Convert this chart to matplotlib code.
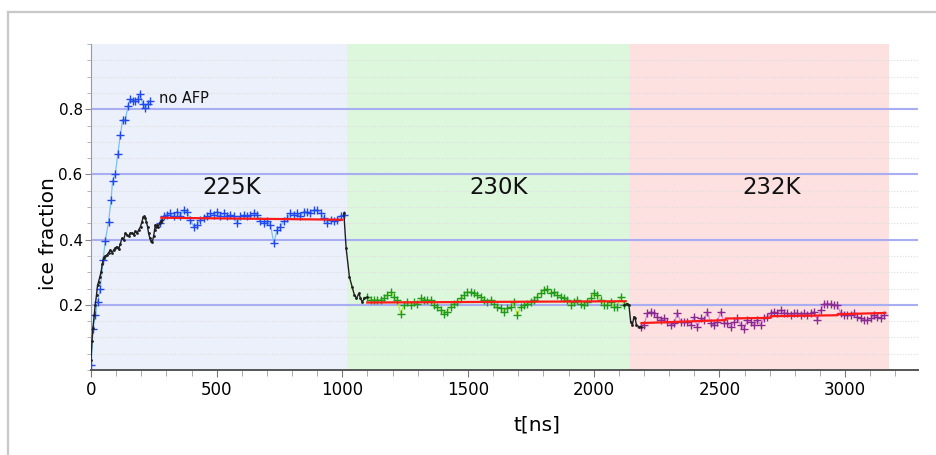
import numpy as np
import matplotlib.pyplot as plt
from matplotlib.ticker import MultipleLocator, FixedLocator

# temperature windows (ns)
win_225 = (0, 1017)
win_230 = (1017, 2140)
win_232 = (2140, 3175)

# reference run without AFP
noafp_t = [1, 8, 17, 26, 37, 48, 57, 70, 80, 86, 97, 107, 117, 126, 137, 147,
           156, 167, 176, 186, 196, 205, 216, 225, 236]
noafp_v = [0.015, 0.127, 0.168, 0.209, 0.25, 0.337, 0.397, 0.455, 0.522, 0.581,
           0.602, 0.664, 0.722, 0.768, 0.768, 0.811, 0.832, 0.825, 0.825, 0.832,
           0.848, 0.817, 0.804, 0.817, 0.825]

# transient segments (black)
ramp_t = [0, 4, 8, 13, 17, 22, 26, 30, 35, 40, 45, 50, 57, 64, 70, 77, 84, 90,
          97, 103, 110, 116, 123, 130, 137, 143, 150, 157, 164, 170, 177, 183,
          190, 197, 203, 208, 212, 216, 220, 225, 229, 234, 239, 244, 249, 253,
          256, 260, 263, 268, 273, 277, 282]
ramp_v = [0.03, 0.09, 0.13, 0.17, 0.20, 0.23, 0.26, 0.27, 0.285, 0.30, 0.325,
          0.343, 0.35, 0.353, 0.36, 0.368, 0.36, 0.368, 0.375, 0.378, 0.37,
          0.385, 0.404, 0.40, 0.42, 0.415, 0.41, 0.42, 0.42, 0.415, 0.425, 0.42,
          0.43, 0.44, 0.455, 0.47, 0.471, 0.466, 0.455, 0.44, 0.42, 0.405,
          0.397, 0.394, 0.41, 0.43, 0.445, 0.44, 0.445, 0.44, 0.45, 0.455, 0.46]
drop1_t = [1006, 1015, 1028, 1039, 1048, 1056, 1066, 1072, 1079, 1088, 1098]
drop1_v = [0.481, 0.374, 0.286, 0.255, 0.23, 0.22, 0.235, 0.22, 0.209, 0.22, 0.223]
drop2_t = [2120, 2134, 2140, 2147, 2154, 2160, 2165, 2170, 2180, 2187]
drop2_v = [0.199, 0.204, 0.200, 0.148, 0.138, 0.163, 0.158, 0.138, 0.133, 0.133]

# equilibrated runs
t225 = np.linspace(276, 1006, 56)
v225 = [0.450, 0.471, 0.476, 0.481, 0.471, 0.486, 0.471, 0.491, 0.486, 0.461,
        0.440, 0.445, 0.461, 0.466, 0.471, 0.481, 0.476, 0.486, 0.471, 0.481,
        0.471, 0.476, 0.471, 0.450, 0.471, 0.476, 0.471, 0.476, 0.481, 0.476,
        0.456, 0.450, 0.456, 0.445, 0.389, 0.430, 0.440, 0.456, 0.466, 0.481,
        0.476, 0.481, 0.471, 0.486, 0.486, 0.481, 0.491, 0.491, 0.481, 0.466,
        0.450, 0.461, 0.456, 0.461, 0.471, 0.476]

t230 = np.linspace(1099, 2120, 78)
v230 = [0.225, 0.215, 0.215, 0.215, 0.215, 0.220, 0.230, 0.240, 0.225, 0.215,
        0.173, 0.199, 0.209, 0.199, 0.209, 0.204, 0.220, 0.215, 0.215, 0.215,
        0.199, 0.194, 0.184, 0.173, 0.179, 0.194, 0.204, 0.209, 0.220, 0.230,
        0.240, 0.240, 0.235, 0.230, 0.225, 0.215, 0.209, 0.215, 0.204, 0.194,
        0.189, 0.179, 0.189, 0.194, 0.209, 0.168, 0.194, 0.199, 0.204, 0.209,
        0.215, 0.225, 0.235, 0.245, 0.250, 0.235, 0.240, 0.230, 0.225, 0.220,
        0.215, 0.199, 0.209, 0.215, 0.204, 0.199, 0.209, 0.220, 0.235, 0.230,
        0.215, 0.199, 0.199, 0.209, 0.194, 0.194, 0.225, 0.199]

t232 = np.linspace(2187, 3155, 74)
v232 = [0.133, 0.138, 0.174, 0.179, 0.174, 0.163, 0.153, 0.158, 0.148, 0.138,
        0.143, 0.174, 0.148, 0.148, 0.148, 0.138, 0.163, 0.133, 0.158, 0.153,
        0.179, 0.143, 0.138, 0.148, 0.179, 0.143, 0.143, 0.133, 0.148, 0.158,
        0.138, 0.127, 0.153, 0.148, 0.138, 0.153, 0.138, 0.158, 0.163, 0.174,
        0.179, 0.174, 0.184, 0.174, 0.174, 0.168, 0.174, 0.174, 0.168, 0.174,
        0.168, 0.174, 0.179, 0.153, 0.184, 0.204, 0.204, 0.204, 0.199, 0.199,
        0.174, 0.168, 0.168, 0.168, 0.174, 0.163, 0.158, 0.153, 0.153, 0.158,
        0.168, 0.163, 0.158, 0.168]

# running fits (red)
fit225_t = [280, 1000]
fit225_v = [0.467, 0.461]
fit230_t = [1099, 2127]
fit230_v = [0.207, 0.211]
fit232_t = [2190, 2525, 2525, 2704, 2704, 2970, 2970, 3160]
fit232_v = [0.144, 0.153, 0.158, 0.160, 0.165, 0.168, 0.171, 0.175]

labels = ["225K", "230K", "232K"]
label_t = [558, 1622, 2708]

fig = plt.figure(figsize=(9.37, 4.55), dpi=100)
ax = fig.add_axes([0.0971, 0.1868, 0.8826, 0.7165])

# outer frame lines
fig.add_artist(plt.Line2D([0.009, 1.0], [0.974, 0.974], color="#c8c8c8", lw=1.6))
fig.add_artist(plt.Line2D([0.009, 0.009], [0.0, 0.974], color="#c8c8c8", lw=1.6))

ax.axvspan(*win_225, color="#ebf0fa", zorder=0, lw=0)
ax.axvspan(*win_230, color="#dcf7dc", zorder=0, lw=0)
ax.axvspan(*win_232, color="#fde1e1", zorder=0, lw=0)

ax.set_xlim(0, 3290)
ax.set_ylim(0, 1.0)

# grid
for y in np.arange(0.05, 1.0, 0.05):
    ax.axhline(y, color="#dedede", lw=0.8, ls=(0, (1, 1.5)), zorder=1)
for y in [0.2, 0.4, 0.6, 0.8]:
    ax.axhline(y, color="#a9aef2", lw=1.5, zorder=1)

mk = dict(marker="+", ms=6, mew=1.0, lw=0.9, zorder=3)
ax.plot(noafp_t, noafp_v, color="#7cc0f4", mec="#2048ee", **mk)
ax.plot(t225, v225, color="#7cc0f4", mec="#2048ee", **mk)
ax.plot(t230, v230, color="#b8e838", mec="#1e9a1e", **mk)
ax.plot(t232, v232, color="#e080e0", mec="#8a2a90", **mk)

for t, v in [(ramp_t, ramp_v), (drop1_t, drop1_v), (drop2_t, drop2_v)]:
    ax.plot(t, v, color="#202020", lw=1.0, marker=".", ms=2, zorder=4)

for t, v in [(fit225_t, fit225_v), (fit230_t, fit230_v), (fit232_t, fit232_v)]:
    ax.plot(t, v, color="#ff1a1a", lw=1.6, zorder=5)

for lab, tx in zip(labels, label_t):
    ax.text(tx, 0.559, lab, ha="center", va="center", fontsize=16.5, color="#111111")
ax.text(272, 0.834, "no AFP", ha="left", va="center", fontsize=10.5, color="#111111")

# axes styling
for s in ["top", "right"]:
    ax.spines[s].set_visible(False)
ax.spines["left"].set_color("#9a9a9a")
ax.spines["bottom"].set_color("#555555")
ax.spines["bottom"].set_linewidth(1.4)

ax.xaxis.set_major_locator(MultipleLocator(500))
ax.xaxis.set_minor_locator(MultipleLocator(100))
ax.set_xticks(range(0, 3001, 500))
ax.tick_params(axis="x", which="major", length=5, color="#777777", labelsize=12, pad=3)
ax.tick_params(axis="x", which="minor", length=4, color="#999999")

ax.yaxis.set_major_locator(FixedLocator([0.2, 0.4, 0.6, 0.8]))
ax.yaxis.set_minor_locator(MultipleLocator(0.05))
ax.tick_params(axis="y", which="major", length=4, color="#888888", labelsize=11, pad=2)
ax.tick_params(axis="y", which="minor", length=3, color="#aaaaaa")

ax.set_xlabel("t[ns]", fontsize=14.5)
ax.xaxis.set_label_coords(0.539, -0.14)
ax.set_ylabel("ice fraction", fontsize=14.5)
ax.yaxis.set_label_coords(-0.04, 0.42)

fig.savefig("out.png", dpi=100)
